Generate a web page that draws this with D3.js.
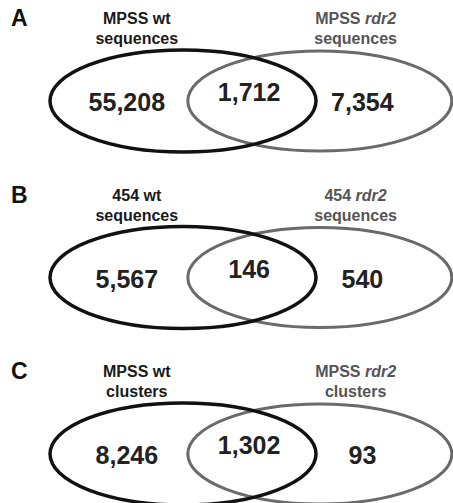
<!DOCTYPE html>
<html lang="en">
<head>
  <meta charset="UTF-8">
  <title>Venn diagrams</title>
  <style>
    body { margin: 0; padding: 0; background: #fff; }
    svg { display: block; font-family: 'Liberation Sans', Arial, sans-serif; }
  </style>
</head>
<body>
<script src="https://cdn.jsdelivr.net/npm/d3@7"></script>
<script>
  // Panel data
  const panels = ['A', 'B', 'C'];
  const leftTitles = [['MPSS wt', 'sequences'], ['454 wt', 'sequences'], ['MPSS wt', 'clusters']];
  const rightTitles = [['MPSS ', 'rdr2', 'sequences'], ['454 ', 'rdr2', 'sequences'], ['MPSS ', 'rdr2', 'clusters']];
  const leftOnly = [55208, 5567, 8246];
  const overlap = [1712, 146, 1302];
  const rightOnly = [7354, 540, 93];

  const width = 453, height = 503;
  const fmt = d3.format(',');

  const svg = d3.select('body').append('svg')
    .attr('width', width)
    .attr('height', height);

  // vertical position of each panel's ellipse centre
  const y = d3.scalePoint().domain(panels).range([101, 454]);
  // horizontal layout in unit space
  const x = d3.scaleLinear().domain([0, 1]).range([0, width]);

  const g = svg.selectAll('g.panel')
    .data(panels)
    .enter().append('g')
    .attr('class', 'panel')
    .attr('transform', d => `translate(0,${y(d)})`);

  // panel letter
  g.append('text')
    .attr('x', 11)
    .attr('y', -75)
    .attr('font-size', 23)
    .attr('font-weight', 'bold')
    .attr('fill', '#111')
    .text(d => d);

  // ellipses: right one (grey) first, then left (black)
  g.append('ellipse')
    .attr('cx', x(0.706))
    .attr('cy', 0)
    .attr('rx', 132)
    .attr('ry', 50)
    .attr('fill', 'none')
    .attr('stroke', '#6a6a6a')
    .attr('stroke-width', 3);

  g.append('ellipse')
    .attr('cx', x(0.404))
    .attr('cy', 0)
    .attr('rx', 133)
    .attr('ry', 51)
    .attr('fill', 'none')
    .attr('stroke', '#111')
    .attr('stroke-width', 3.5);

  // titles
  const lt = g.append('text')
    .attr('text-anchor', 'middle')
    .attr('font-size', 16)
    .attr('font-weight', 'bold')
    .attr('fill', '#1a1a1a');
  lt.append('tspan').attr('x', x(0.302)).attr('y', -77).text((d, i) => leftTitles[i][0]);
  lt.append('tspan').attr('x', x(0.302)).attr('y', -57).text((d, i) => leftTitles[i][1]);

  const rt = g.append('text')
    .attr('text-anchor', 'middle')
    .attr('font-size', 16)
    .attr('font-weight', 'bold')
    .attr('fill', '#555');
  const rt1 = rt.append('tspan').attr('x', x(0.785)).attr('y', -77);
  rt1.append('tspan').text((d, i) => rightTitles[i][0]);
  rt1.append('tspan').attr('font-style', 'italic').text((d, i) => rightTitles[i][1]);
  rt.append('tspan').attr('x', x(0.785)).attr('y', -57).text((d, i) => rightTitles[i][2]);

  // counts
  const num = (sel, fx, dy, vals) => sel.append('text')
    .attr('x', x(fx))
    .attr('y', dy)
    .attr('text-anchor', 'middle')
    .attr('font-size', 25)
    .attr('font-weight', 'bold')
    .attr('fill', '#222')
    .text((d, i) => fmt(vals[i]));

  num(g, 0.280, 10, leftOnly);
  num(g, 0.550, 0, overlap);
  num(g, 0.800, 10, rightOnly);
</script>
</body>
</html>
